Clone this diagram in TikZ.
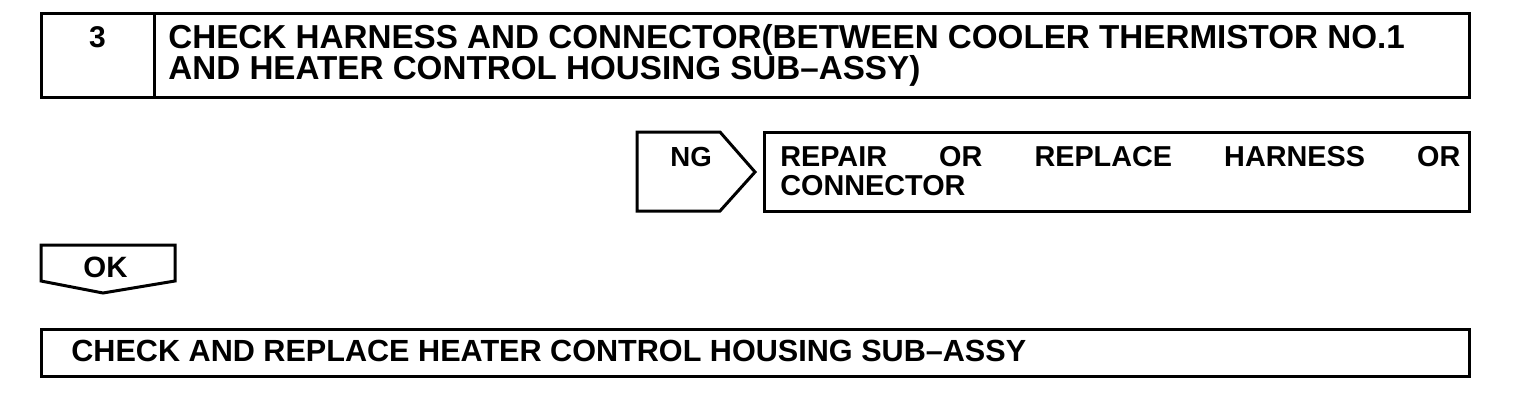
\documentclass[tikz,border=0pt]{standalone}
\usepackage{fontspec}
\setmainfont{Liberation Sans}
\begin{document}
\begin{tikzpicture}[x=0.5pt,y=-0.5pt,
  frame/.style={line width=1.5pt,line join=miter},
  txt/.style={inner sep=0pt,anchor=base west,font=\bfseries\fontsize{#1}{#1}\selectfont},
  txt/.default=12]
\useasboundingbox (0,0) rectangle (1520,408);
% top box
\draw[frame] (41,13.5) rectangle (1469,97);
\draw[frame] (154,13.5) -- (154,97);
\node[txt=15,anchor=base] (num) at (97.5,47) {3};
\node[txt=16.6] (t1a) at (168,48) {CHECK HARNESS AND CONNECTOR(BETWEEN COOLER THERMISTOR NO.1};
\node[txt=16.6] (t1b) at (168,79) {AND HEATER CONTROL HOUSING SUB–ASSY)};
% NG
\draw[frame] (637,132) -- (720,132) -- (755,172) -- (720,211) -- (637,211) -- cycle;
\node[txt=13.8] (ng) at (670,166) {NG};
\draw[frame] (764,132) rectangle (1469,211);
\node[txt=14.4] (r1) at (780,166) {\makebox[340pt][s]{REPAIR OR REPLACE HARNESS OR}};
\node[txt=14.4] (r2) at (780,195) {CONNECTOR};
% OK
\draw[frame] (41,245) -- (175,245) -- (175,281) -- (103,293) -- (41,281) -- cycle;
\node[txt=14.7] (ok) at (83,277) {OK};
% bottom box
\draw[frame] (41,329) rectangle (1469,376);
\node[txt=15.3] (bt) at (71,361) {CHECK AND REPLACE HEATER CONTROL HOUSING SUB–ASSY};
\end{tikzpicture}
\end{document}
